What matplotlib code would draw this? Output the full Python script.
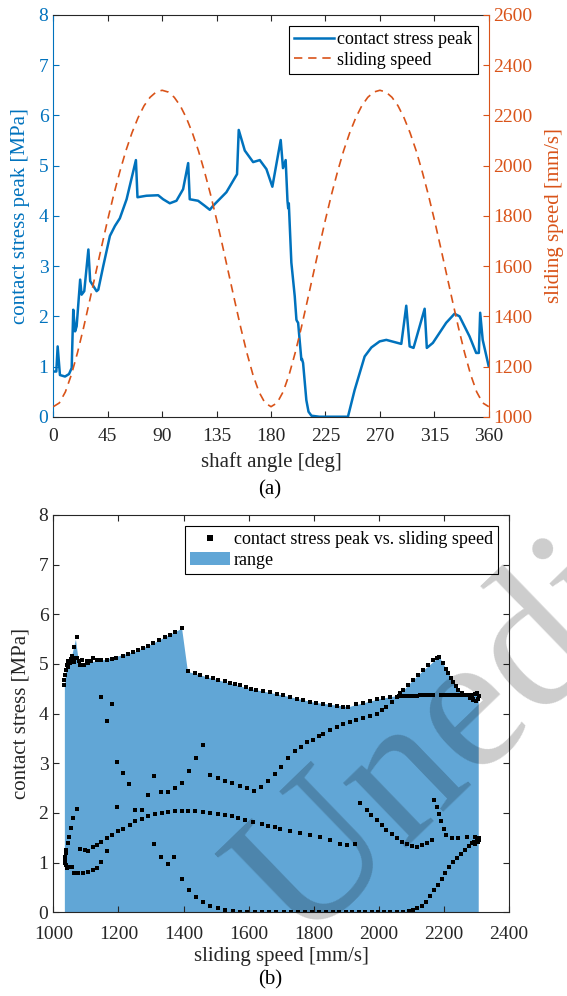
import matplotlib
matplotlib.use("Agg")
import matplotlib.pyplot as plt
from matplotlib.lines import Line2D

plt.rcParams['font.family'] = ['Liberation Serif', 'DejaVu Serif']

BLUE = '#0072BD'
ORANGE = '#D95319'
DARK = '#262626'
FILL = '#61A6D6'

# (a) contact stress peak over one revolution
angle = [0, 2.5, 3.6, 5.5, 9.7, 13, 15.2, 16.5, 18, 19.3, 22.2, 23.4, 25.6, 29, 30.5,
         35.8, 37.2, 41.3, 46.8, 51, 55, 60.6, 68.3, 69.6, 77, 86.7, 90.8, 96.3,
         101.8, 107.3, 111.5, 112.8, 119.7, 125.2, 129.4, 132.1, 143.1, 151.9,
         153.3, 158.3, 165.2, 170.7, 176.2, 181.1, 188, 189.9, 192.1, 193.6, 194.2,
         194.7, 195.5, 196.8, 199.6, 201, 201.6, 202.4, 205.1, 205.6, 206.5, 209.2,
         211, 213.4, 220, 243.6, 249.1, 257.4, 263, 269.8, 275.3, 287.7, 291.8,
         294.6, 297.8, 307, 308.8, 313.8, 324.8, 331.7, 335.8, 344.1, 349.6, 351.8,
         352.9, 355, 360]
stress_peak = [0.9, 0.9, 1.4, 0.83, 0.8, 0.85, 0.97, 2.13, 1.7, 1.8, 2.73, 2.43, 2.5,
               3.33, 2.7, 2.5, 2.53, 3.0, 3.6, 3.8, 3.95, 4.33, 5.11, 4.37, 4.4, 4.41,
               4.33, 4.25, 4.3, 4.53, 5.05, 4.33, 4.3, 4.2, 4.12, 4.2, 4.47, 4.83,
               5.71, 5.3, 5.07, 5.11, 4.93, 4.58, 5.51, 4.95, 5.11, 4.3, 4.15,
               4.25, 3.8, 3.07, 2.4, 1.93, 1.9, 1.87, 1.13, 1.15, 1.07, 0.33,
               0.1, 0.02, 0.0, 0.0, 0.53, 1.2, 1.38, 1.5, 1.53, 1.45, 2.21,
               1.4, 1.37, 2.15, 1.37, 1.47, 1.87, 2.05, 2.0, 1.6, 1.27, 1.27,
               2.07, 1.53, 1.0]

speed_angle = list(range(0, 361, 5))
sliding_speed = [1040, 1055, 1099, 1168, 1255, 1354, 1461, 1570, 1679, 1785, 1885,
                 1976, 2059, 2130, 2190, 2238, 2272, 2293, 2300,
                 2293, 2272, 2238, 2190, 2130, 2059, 1976, 1885, 1785, 1679, 1570,
                 1461, 1354, 1255, 1168, 1099, 1055, 1040,
                 1055, 1099, 1168, 1255, 1354, 1461, 1570, 1679, 1785, 1885, 1976,
                 2059, 2130, 2190, 2238, 2272, 2293, 2300,
                 2293, 2272, 2238, 2190, 2130, 2059, 1976, 1885, 1785, 1679, 1570,
                 1461, 1354, 1255, 1168, 1099, 1055, 1040]

# (b) contact stress peak vs. sliding speed, (speed, stress)
upper_left = [(1034, 4.58), (1034, 4.68), (1036, 4.78), (1038, 4.88), (1041, 4.98),
              (1045, 4.93), (1046, 5.05), (1050, 5.02), (1053, 5.09), (1061, 5.11),
              (1065, 5.04), (1072, 5.11), (1078, 5.06), (1056, 5.16), (1063, 5.35),
              (1074, 5.55), (1082, 4.97), (1094, 4.98), (1087, 5.07), (1102, 5.05),
              (1107, 5.01), (1115, 5.05), (1121, 5.12), (1133, 5.08), (1148, 5.07),
              (1164, 5.08), (1179, 5.09), (1194, 5.12), (1215, 5.16), (1230, 5.2),
              (1246, 5.25), (1261, 5.28), (1276, 5.33), (1292, 5.37), (1307, 5.43),
              (1325, 5.48), (1343, 5.55), (1358, 5.58), (1374, 5.65), (1394, 5.72)]
upper_right = [(1415, 4.85), (1435, 4.81), (1450, 4.78), (1471, 4.74), (1491, 4.71),
               (1507, 4.68), (1527, 4.66), (1542, 4.62), (1558, 4.6), (1573, 4.57),
               (1592, 4.53), (1606, 4.5), (1624, 4.47), (1645, 4.45), (1665, 4.43),
               (1686, 4.4), (1706, 4.37), (1727, 4.34), (1747, 4.3), (1768, 4.27),
               (1788, 4.24), (1808, 4.21), (1829, 4.19), (1850, 4.17), (1870, 4.15),
               (1890, 4.14), (1906, 4.14), (1931, 4.19), (1951, 4.22), (1972, 4.26),
               (1993, 4.29), (2013, 4.31), (2033, 4.33), (2054, 4.34)]
band = [(2062, 4.35), (2070, 4.35), (2078, 4.36), (2086, 4.36), (2094, 4.36),
        (2102, 4.36), (2110, 4.36), (2118, 4.36), (2126, 4.37), (2134, 4.37),
        (2142, 4.37), (2150, 4.37), (2158, 4.37), (2166, 4.37), (2190, 4.37),
        (2198, 4.37), (2206, 4.37), (2214, 4.37), (2222, 4.37), (2230, 4.37),
        (2238, 4.37), (2246, 4.37), (2254, 4.37), (2262, 4.37), (2270, 4.38),
        (2278, 4.38), (2286, 4.38), (2294, 4.39), (2302, 4.41), (2307, 4.36),
        (2305, 4.29), (2298, 4.25), (2288, 4.27)]
peak_branch = [(1637, 2.52), (1658, 2.65), (1681, 2.78), (1700, 2.92), (1721, 3.1),
               (1742, 3.25), (1762, 3.33), (1780, 3.42), (1798, 3.47), (1815, 3.54),
               (1829, 3.6), (1850, 3.67), (1870, 3.74), (1890, 3.8), (1911, 3.84),
               (1931, 3.88), (1951, 3.91), (1972, 3.96), (1993, 4.0), (2010, 4.07),
               (2023, 4.14), (2039, 4.24), (2054, 4.34), (2065, 4.41), (2075, 4.48),
               (2090, 4.58), (2105, 4.68), (2120, 4.78), (2136, 4.88), (2150, 4.98),
               (2167, 5.08), (2178, 5.13), (2185, 5.15), (2197, 5.01), (2205, 4.9),
               (2213, 4.81), (2220, 4.72), (2228, 4.64), (2236, 4.56), (2244, 4.48),
               (2254, 4.42), (2264, 4.38), (2279, 4.32), (2290, 4.3)]
middle = [(1148, 4.33), (1181, 4.19), (1164, 3.86), (1197, 3.03), (1215, 2.8),
          (1233, 2.58), (1197, 2.13), (1251, 2.06), (1271, 2.06), (1310, 2.74),
          (1290, 2.36), (1331, 2.42), (1351, 2.43), (1374, 2.5), (1394, 2.61),
          (1417, 2.85), (1438, 3.1), (1461, 3.36), (1481, 2.77), (1507, 2.7),
          (1527, 2.64), (1548, 2.6), (1573, 2.54), (1594, 2.51), (1616, 2.45)]
arc = [(1082, 1.27), (1097, 1.26), (1107, 1.23), (1123, 1.31), (1133, 1.36),
       (1148, 1.42), (1164, 1.49), (1179, 1.56), (1200, 1.63), (1215, 1.68),
       (1235, 1.75), (1251, 1.83), (1271, 1.88), (1292, 1.93), (1312, 1.97),
       (1333, 2.0), (1353, 2.02), (1374, 2.03), (1394, 2.04), (1415, 2.04),
       (1435, 2.03), (1461, 2.02), (1481, 2.0), (1507, 1.98), (1527, 1.96),
       (1548, 1.93), (1568, 1.89), (1589, 1.85), (1614, 1.82), (1640, 1.78),
       (1660, 1.74), (1681, 1.71), (1696, 1.67), (1726, 1.64), (1757, 1.6),
       (1788, 1.56), (1819, 1.51), (1850, 1.46), (1880, 1.37), (1901, 1.36),
       (1926, 1.38)]
low_left = [(1041, 0.89), (1038, 0.95), (1036, 0.99), (1037, 1.05), (1036, 1.12),
            (1040, 1.19), (1039, 1.26), (1044, 1.39), (1049, 1.52), (1054, 1.69),
            (1061, 1.89), (1072, 2.09), (1051, 0.92), (1056, 0.92), (1063, 0.79),
            (1077, 0.79), (1092, 0.8), (1107, 0.82), (1123, 0.85), (1135, 0.9),
            (1148, 1.02), (1164, 1.23)]
falling = [(1310, 1.38), (1331, 1.11), (1351, 0.97), (1372, 1.11), (1394, 0.68),
           (1417, 0.44), (1438, 0.3), (1459, 0.2), (1481, 0.13), (1507, 0.08),
           (1527, 0.05), (1551, 0.03), (1573, 0.01), (1596, 0.01), (1618, 0.01),
           (1640, 0.01), (1663, 0.01), (1685, 0.01), (1708, 0.01), (1730, 0.01),
           (1752, 0.01), (1773, 0.01), (1795, 0.01), (1816, 0.01), (1837, 0.01),
           (1858, 0.01), (1878, 0.01), (1898, 0.01), (1918, 0.01), (1938, 0.01),
           (1958, 0.01), (1978, 0.01), (1997, 0.01), (2016, 0.01), (2035, 0.01),
           (2054, 0.01), (2073, 0.01), (2092, 0.02)]
low_right = [(2105, 0.04), (2116, 0.08), (2131, 0.13), (2145, 0.21), (2157, 0.33),
             (2170, 0.45), (2181, 0.55), (2193, 0.68), (2203, 0.8), (2216, 0.92),
             (2227, 1.02), (2239, 1.09), (2251, 1.17), (2264, 1.26), (2278, 1.34),
             (2292, 1.42), (2302, 1.47), (2308, 1.5), (2305, 1.42), (2295, 1.38),
             (2285, 1.4)]
right_mid = [(1941, 2.21), (1962, 2.06), (1977, 1.96), (1993, 1.86), (2008, 1.76),
             (2023, 1.66), (2039, 1.58), (2054, 1.49), (2070, 1.42), (2085, 1.37),
             (2101, 1.34), (2116, 1.32), (2131, 1.36), (2147, 1.4), (2162, 1.46),
             (2170, 2.26), (2177, 2.13), (2184, 1.98), (2192, 1.83), (2200, 1.67),
             (2207, 1.56), (2223, 1.49), (2243, 1.49), (2269, 1.52), (2295, 1.52),
             (2308, 1.46)]

# upper edge of the shaded range
env_speed = [1034, 1034, 1040, 1056, 1068, 1078, 1100, 1150, 1250, 1300, 1394, 1412,
             1500, 1600, 1700, 1800, 1906, 2000, 2060, 2100, 2140, 2185, 2210, 2245,
             2270, 2305, 2305]
env_stress = [0, 4.55, 4.95, 5.16, 5.5, 5.0, 5.03, 5.08, 5.25, 5.4, 5.72, 4.85,
              4.69, 4.51, 4.38, 4.23, 4.14, 4.3, 4.37, 4.65, 4.9, 5.15, 4.85, 4.48,
              4.38, 4.4, 0]

points = (upper_left + upper_right + band + peak_branch + middle + arc + low_left
          + falling + low_right + right_mid)
pt_speed = [p[0] for p in points]
pt_stress = [p[1] for p in points]

DASH = (0, (5, 3.5))

fig = plt.figure(figsize=(5.67, 9.96), dpi=100)

# ---- (a)
ax1 = fig.add_axes([0.094, 0.5816, 0.768, 0.4034])
ax2 = ax1.twinx()
ax1.plot(angle, stress_peak, color=BLUE, lw=1.8)
ax2.plot(speed_angle, sliding_speed, color=ORANGE, lw=1.2, linestyle=DASH)
ax1.set_xlim(0, 360)
ax1.set_ylim(0, 8)
ax2.set_ylim(1000, 2600)
ax1.set_xticks(range(0, 361, 45))
ax1.set_yticks(range(0, 9))
ax2.set_yticks(range(1000, 2601, 200))
ax1.tick_params(axis='x', direction='in', top=True, colors=DARK, labelsize=14, length=4, pad=8)
ax1.tick_params(axis='y', direction='in', colors=BLUE, labelsize=14, length=4)
ax2.tick_params(axis='y', direction='in', colors=ORANGE, labelsize=14, length=4)
for s in ['top', 'bottom']:
    ax1.spines[s].set_color(DARK)
ax1.spines['left'].set_color(BLUE)
ax1.spines['right'].set_visible(False)
ax2.spines['right'].set_color(ORANGE)
for s in ['left', 'top', 'bottom']:
    ax2.spines[s].set_visible(False)
ax1.set_xlabel('shaft angle [deg]', fontsize=15, color=DARK, labelpad=5)
ax1.set_ylabel('contact stress peak [MPa]', fontsize=15, color=BLUE, labelpad=6)
ax2.set_ylabel('sliding speed [mm/s]', fontsize=15, color=ORANGE, labelpad=9)
h_a = [Line2D([], [], color=BLUE, lw=1.8),
       Line2D([], [], color=ORANGE, lw=1.2, linestyle=DASH)]
leg = ax2.legend(h_a, ['contact stress peak', 'sliding speed'], loc='upper right',
                 fontsize=13, fancybox=False, framealpha=1, edgecolor='k',
                 borderpad=0.3, labelspacing=0.2, handletextpad=0.2, handlelength=2.2,
                 borderaxespad=0.6)
leg.get_frame().set_linewidth(0.8)

# ---- (b)
ax = fig.add_axes([0.094, 0.084, 0.804, 0.399])
ax.fill_between(env_speed, 0, env_stress, color=FILL, lw=0, label='range')
ax.plot(pt_speed, pt_stress, 's', color='k', ms=3.4, mew=0,
        label='contact stress peak vs. sliding speed')
ax.set_xlim(1000, 2400)
ax.set_ylim(0, 8)
ax.set_xticks(range(1000, 2401, 200))
ax.set_yticks(range(0, 9))
ax.tick_params(direction='in', top=True, right=True, colors=DARK, labelsize=14, length=4)
ax.tick_params(axis='x', pad=10)
for s in ax.spines.values():
    s.set_color(DARK)
ax.set_xlabel('sliding speed [mm/s]', fontsize=15, color=DARK, labelpad=3)
ax.set_ylabel('contact stress [MPa]', fontsize=15, color=DARK, labelpad=6)
handles, labels = ax.get_legend_handles_labels()
leg = ax.legend(handles[::-1], labels[::-1], loc='upper right', fontsize=13,
                fancybox=False, framealpha=1, edgecolor='k', borderpad=0.3,
                labelspacing=0.2, handletextpad=0.2, handlelength=2.2,
                borderaxespad=0.6, markerscale=1.2)
leg.get_frame().set_linewidth(0.8)

fig.text(0.476, 0.508, '(a)', ha='center', va='center', fontsize=15, color='k')
fig.text(0.476, 0.016, '(b)', ha='center', va='center', fontsize=15, color='k')

# watermark
fig.text(0.53, 0.05, 'Unedited', rotation=44, rotation_mode='anchor',
         ha='left', va='baseline', fontsize=142, color='k', alpha=0.2)

fig.savefig('out.png', dpi=100)
